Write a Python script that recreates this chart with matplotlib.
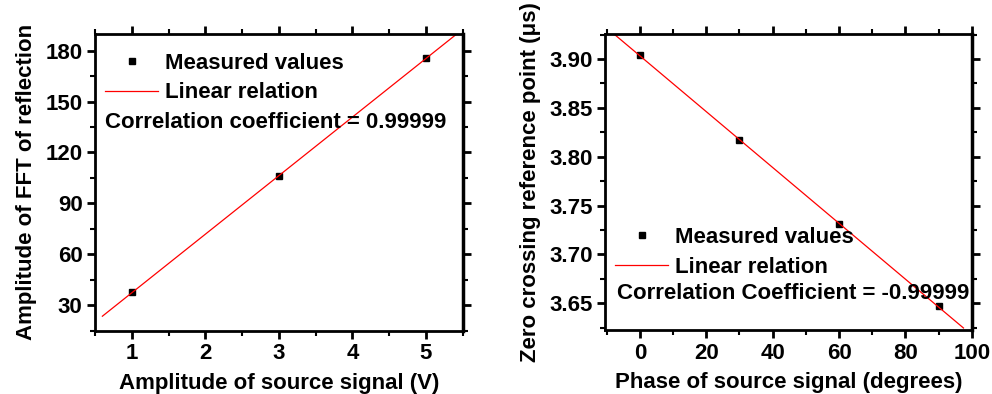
import numpy as np
import matplotlib.pyplot as plt

plt.rcParams['font.family'] = ['Liberation Sans', 'DejaVu Sans']
plt.rcParams['font.weight'] = 'bold'

# left panel data
amp_src = [1, 3, 5]
amp_fft = [37.5, 106, 175.5]
fit_left_x = [0.6, 5.5]

# right panel data
phase = [0, 30, 60, 90]
zero_cross = [3.904, 3.817, 3.731, 3.647]
fit_right_x = [-7.5, 97.5]

FS = 16

fig = plt.figure(figsize=(9.92, 3.94), dpi=100)
ax1 = fig.add_axes([0.0958, 0.1607, 0.3706, 0.753])
ax2 = fig.add_axes([0.6099, 0.1624, 0.3697, 0.7513])


def style(ax):
    for s in ax.spines.values():
        s.set_linewidth(2)
    ax.spines['right'].set_linewidth(2.5)
    ax.tick_params(which='major', direction='out', length=6, width=2, labelsize=FS, pad=3)
    ax.tick_params(which='minor', direction='out', length=3.5, width=1.5)
    ax.tick_params(which='both', top=True, right=True)
    for lab in ax.get_xticklabels() + ax.get_yticklabels():
        lab.set_fontweight('bold')


def fit(x, y, xs):
    k, b = np.polyfit(x, y, 1)
    xs = np.array(xs)
    return xs, k * xs + b


leg_kw = dict(frameon=False, fontsize=FS, handlelength=2.4, handletextpad=0.28,
              borderaxespad=0.3, labelspacing=0.4)

# left
fx, fy = fit(amp_src, amp_fft, fit_left_x)
ax1.plot(amp_src, amp_fft, 's', color='black', markersize=5, label='Measured values')
ax1.plot(fx, fy, '-', color='red', lw=0.9, label='Linear relation')
ax1.set_xlim(0.5, 5.5)
ax1.set_ylim(19.3, 189.8)
ax1.set_xticks([1, 2, 3, 4, 5])
ax1.set_xticks(np.arange(0.5, 5.6, 0.5), minor=True)
ax1.set_yticks([30, 60, 90, 120, 150, 180])
ax1.set_yticks(np.arange(15, 190, 15), minor=True)
ax1.set_xlabel('Amplitude of source signal (V)', fontsize=FS, fontweight='bold', labelpad=6)
ax1.set_ylabel('Amplitude of FFT of reflection', fontsize=FS, fontweight='bold', labelpad=6)
ax1.legend(loc='upper left', bbox_to_anchor=(-0.015, 0.99), **leg_kw)
ax1.text(0.027, 0.703, 'Correlation coefficient = 0.99999', transform=ax1.transAxes,
         fontsize=FS, fontweight='bold', va='center')
style(ax1)

# right
fx, fy = fit(phase, zero_cross, fit_right_x)
ax2.plot(phase, zero_cross, 's', color='black', markersize=5, label='Measured values')
ax2.plot(fx, fy, '-', color='red', lw=0.9, label='Linear relation')
ax2.set_xlim(-10.5, 100)
ax2.set_ylim(3.6227, 3.9256)
ax2.set_xticks([0, 20, 40, 60, 80, 100])
ax2.set_xticks(np.arange(-10, 101, 10), minor=True)
ax2.set_yticks([3.65, 3.70, 3.75, 3.80, 3.85, 3.90])
ax2.set_yticklabels(['3.65', '3.70', '3.75', '3.80', '3.85', '3.90'])
ax2.set_yticks(np.arange(3.625, 3.93, 0.025), minor=True)
ax2.set_xlabel('Phase of source signal (degrees)', fontsize=FS, fontweight='bold', labelpad=6)
ax2.set_ylabel('Zero crossing reference point (\u03bcs)', fontsize=FS, fontweight='bold', labelpad=6)
ax2.legend(loc='upper left', bbox_to_anchor=(-0.015, 0.40), **leg_kw)
ax2.text(0.033, 0.125, 'Correlation Coefficient = -0.99999', transform=ax2.transAxes,
         fontsize=FS, fontweight='bold', va='center')
style(ax2)

fig.savefig('out.png', dpi=100)
